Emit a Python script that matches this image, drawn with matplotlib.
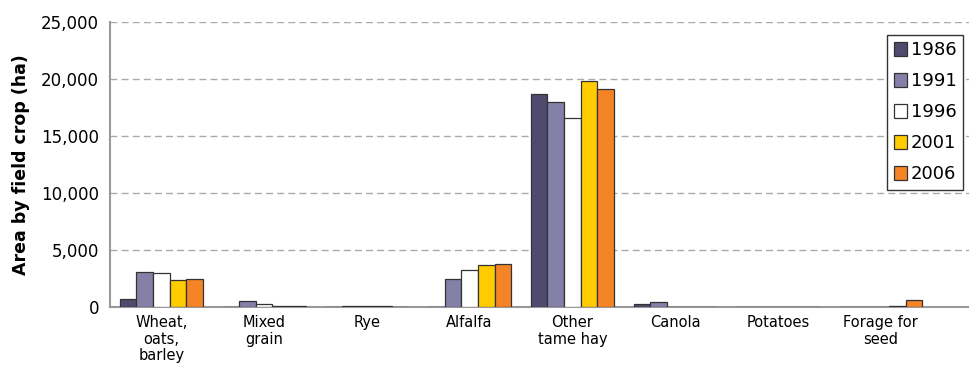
import numpy as np
import matplotlib
matplotlib.use('Agg')
from matplotlib import pyplot as plt
from matplotlib.ticker import FuncFormatter

crops = ['Wheat,\noats,\nbarley', 'Mixed\ngrain', 'Rye', 'Alfalfa', 'Other\ntame hay',
         'Canola', 'Potatoes', 'Forage for\nseed']
years = ['1986', '1991', '1996', '2001', '2006']
v1986 = [700, 0, 0, 0, 18700, 300, 0, 0]
v1991 = [3050, 550, 50, 2450, 17950, 400, 0, 0]
v1996 = [2950, 250, 100, 3250, 16600, 0, 0, 0]
v2001 = [2350, 100, 100, 3650, 19800, 0, 0, 100]
v2006 = [2450, 100, 0, 3750, 19100, 0, 0, 650]
colors = ['#4f4b6e', '#8580a8', '#ffffff', '#ffcc00', '#f58426']

series = [v1986, v1991, v1996, v2001, v2006]

fig = plt.figure(figsize=(9.69, 3.67), dpi=100)
ax = fig.add_axes([110 / 969, 1 - 307 / 367, 859 / 969, 285 / 367])

x = np.arange(len(crops))
w = 0.162
for i, (vals, c, y) in enumerate(zip(series, colors, years)):
    ax.bar(x + (i - 2) * w, vals, w, color=c, edgecolor='#333333', linewidth=0.9,
           label=y, zorder=3)

ax.set_ylim(0, 25000)
ax.set_xlim(-0.5, 7.86)
ax.set_yticks(np.arange(0, 25001, 5000))
ax.yaxis.set_major_formatter(FuncFormatter(lambda v, p: f'{int(v):,}'))
ax.set_xticks(x)
ax.set_xticklabels(crops, fontsize=10.5, linespacing=1.1)
ax.tick_params(axis='y', labelsize=12, length=0, pad=8)
ax.tick_params(axis='x', length=0, pad=6)
ax.grid(axis='y', linestyle=(0, (5, 3)), color='#aaaaaa', linewidth=1, zorder=0)
for s in ['top', 'right']:
    ax.spines[s].set_visible(False)
for s in ['left', 'bottom']:
    ax.spines[s].set_color('#999999')
    ax.spines[s].set_linewidth(1.5)
ax.set_ylabel('Area by field crop (ha)', fontsize=12.5, fontweight='bold', labelpad=8)

leg = ax.legend(loc='upper right', bbox_to_anchor=(853 / 859, 272 / 285), fontsize=13,
                frameon=True, fancybox=False, edgecolor='#333333', framealpha=1,
                handlelength=0.75, handleheight=0.75, handletextpad=0.2,
                labelspacing=0.72, borderpad=0.35, borderaxespad=0)
leg.get_frame().set_linewidth(1)

fig.savefig('out.png', dpi=100)
